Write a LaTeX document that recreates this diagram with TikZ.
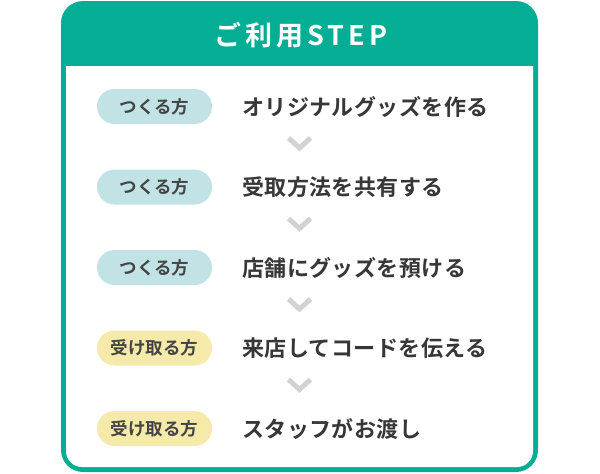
\documentclass[tikz,border=0pt]{standalone}
\usepackage{fontspec}
\newfontfamily\jptitle{Noto Sans CJK JP Bold}[LetterSpace=15]
\newfontfamily\jpmain{Noto Sans CJK JP Bold}[LetterSpace=2]
\newfontfamily\jppill{Noto Sans CJK JP Bold}
\definecolor{brand}{RGB}{4,174,149}
\definecolor{pillblue}{RGB}{193,227,230}
\definecolor{pillyellow}{RGB}{245,234,170}
\definecolor{txt}{RGB}{55,55,55}
\definecolor{pilltxt}{RGB}{68,68,68}
\definecolor{chev}{RGB}{210,210,210}
\tikzset{
  pillbox/.style={rounded corners=17.5pt, minimum width=115pt, minimum height=35pt, inner sep=0pt, text=pilltxt, font=\jppill\fontsize{17.5}{17.5}\selectfont},
  make/.style={pillbox, fill=pillblue},
  take/.style={pillbox, fill=pillyellow},
  steptext/.style={anchor=west, inner sep=0pt, text=txt, font=\jpmain\fontsize{22}{22}\selectfont},
  chevline/.style={draw=chev, line width=5pt, line cap=butt, line join=miter}
}
\begin{document}
\begin{tikzpicture}[x=1pt,y=-1pt]
\useasboundingbox (0,0) rectangle (600,474);
% card
\fill[brand, rounded corners=22pt] (61,1) rectangle (538,472);
\fill[white] (66,66) -- (533,66) {[rounded corners=16pt] -- (533,467) -- (66,467)} -- cycle;
\node[text=white, inner sep=0pt, font=\jptitle\fontsize{27}{27}\selectfont] (title) at (301,35) {ご利用STEP};
% rows
\node[make] (p1) at (154.5,106.5) {つくる方};
\node[make] (p2) at (154.5,187) {つくる方};
\node[make] (p3) at (154.5,267.5) {つくる方};
\node[take] (p4) at (154.5,348) {受け取る方};
\node[take] (p5) at (154.5,428.5) {受け取る方};
\node[steptext] (t1) at (242,106.5) {オリジナルグッズを作る};
\node[steptext] (t2) at (242,187) {受取方法を共有する};
\node[steptext] (t3) at (242,267.5) {店舗にグッズを預ける};
\node[steptext] (t4) at (242,348) {来店してコードを伝える};
\node[steptext] (t5) at (242,428.5) {スタッフがお渡し};
% chevrons
\foreach \c in {143,223.5,304,384.5}{
  \coordinate (ch) at (299.5,\c);
  \draw[chevline] ([shift={(-11,-5)}]ch) -- ([shift={(0,5)}]ch) -- ([shift={(11,-5)}]ch);
}
\end{tikzpicture}
\end{document}
